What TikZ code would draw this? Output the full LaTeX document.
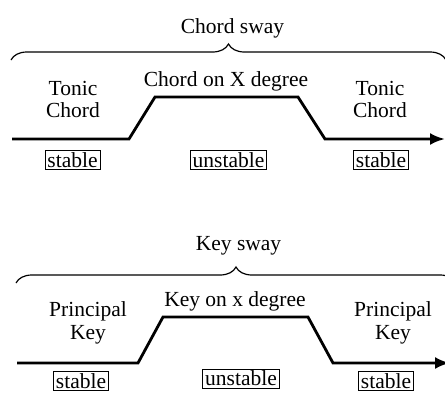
\documentclass[tikz,border=0pt]{standalone}
\usepackage{fontspec}
\setmainfont{Liberation Serif}
\usetikzlibrary{decorations.pathreplacing,arrows.meta}

\tikzset{
  lbl/.style={font=\fontsize{21.5}{23}\selectfont, align=center, inner sep=0pt},
  statebox/.style={draw, line width=0.8pt, font=\fontsize{21.5}{23}\selectfont,
    inner xsep=2.5pt, inner ysep=1.5pt, text height=15pt, text depth=1pt},
  swaybrace/.style={decorate, decoration={brace, amplitude=#1}, line width=1.2pt},
  level/.style={line width=2.8pt, line join=miter, -{Latex[length=15pt,width=12pt]}}
}

\begin{document}
\begin{tikzpicture}[x=1pt, y=-1pt]
  \useasboundingbox (0,0) rectangle (445,392);
  \clip (0,0) rectangle (445,392);

  % ---- chord sway ----
  \node[lbl, anchor=base] (cs) at (232.5,33) {Chord sway};
  \coordinate (cbl) at (11,60);
  \coordinate (cbr) at (446,60);
  \draw[swaybrace=16pt] (cbl) -- (cbr);

  \node[lbl, anchor=base] (ct1) at (73,95) {Tonic};
  \node[lbl, anchor=base] (cc1) at (73,117) {Chord};
  \node[lbl, anchor=base] (cx) at (226,86) {Chord on X degree};
  \node[lbl, anchor=base] (ct2) at (380,95) {Tonic};
  \node[lbl, anchor=base] (cc2) at (380,117) {Chord};

  \coordinate (c0) at (12,139);
  \coordinate (c1) at (129,139);
  \coordinate (c2) at (155,97);
  \coordinate (c3) at (298,97);
  \coordinate (c4) at (325,139);
  \coordinate (c5) at (445,139);
  \draw[level] (c0) -- (c1) -- (c2) -- (c3) -- (c4) -- (c5);

  \node[statebox] (cs1) at (72.5,160) {stable};
  \node[statebox] (cu) at (228.5,160) {unstable};
  \node[statebox] (cs2) at (381,160) {stable};

  % ---- key sway ----
  \node[lbl, anchor=base] (ks) at (238.5,250) {Key sway};
  \coordinate (kbl) at (16,283);
  \coordinate (kbr) at (456,283);
  \draw[swaybrace=16pt] (kbl) -- (kbr);

  \node[lbl, anchor=base] (kp1) at (88,316) {Principal};
  \node[lbl, anchor=base] (kk1) at (88,339) {Key};
  \node[lbl, anchor=base] (kx) at (235,306) {Key on x degree};
  \node[lbl, anchor=base] (kp2) at (393,316) {Principal};
  \node[lbl, anchor=base] (kk2) at (393,339) {Key};

  \coordinate (k0) at (17,363);
  \coordinate (k1) at (138,363);
  \coordinate (k2) at (163,317);
  \coordinate (k3) at (308,317);
  \coordinate (k4) at (333,363);
  \coordinate (k5) at (450,363);
  \draw[level] (k0) -- (k1) -- (k2) -- (k3) -- (k4) -- (k5);

  \node[statebox] (ks1) at (81,381) {stable};
  \node[statebox] (ku) at (241,378.5) {unstable};
  \node[statebox] (ks2) at (386,381) {stable};
\end{tikzpicture}
\end{document}
